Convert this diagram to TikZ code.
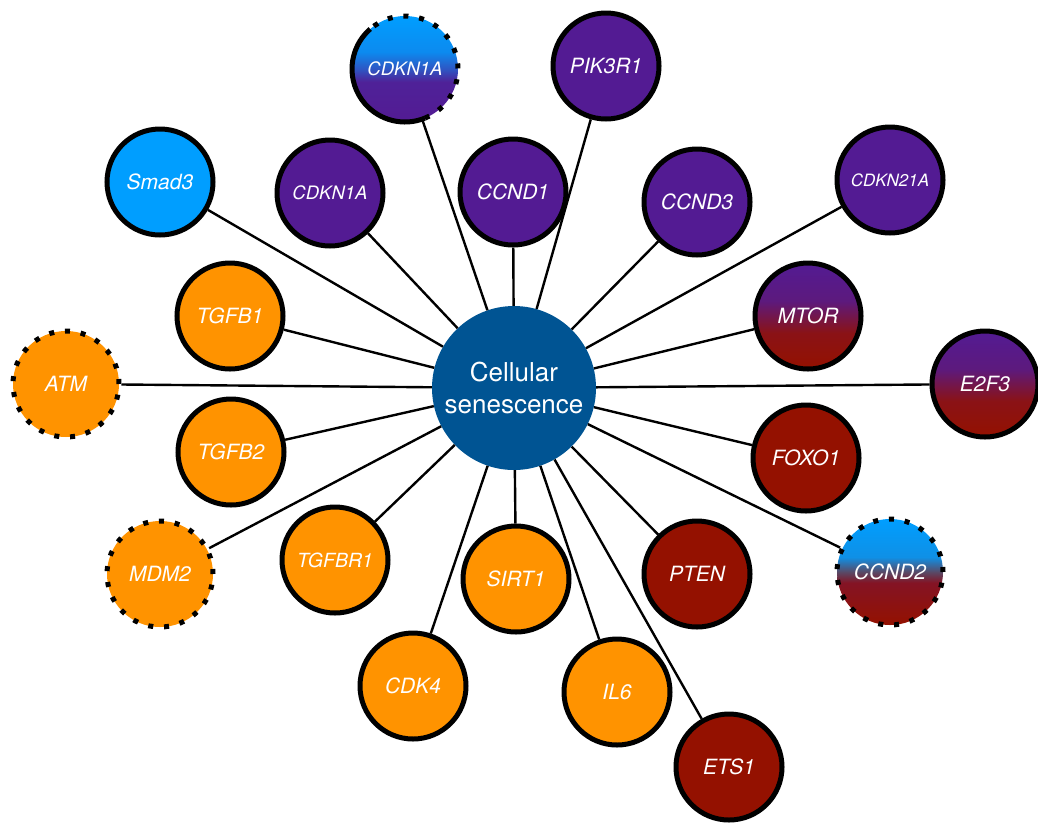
\documentclass[tikz,border=0pt]{standalone}
\usepackage{fontspec}
\setmainfont{TeX Gyre Heros}
\definecolor{ocean}{HTML}{005493}
\definecolor{aqua}{HTML}{009EFF}
\definecolor{tangerine}{HTML}{FF9300}
\definecolor{grape}{HTML}{531B93}
\definecolor{cayenne}{HTML}{941100}
\pgfdeclareverticalshading{grapecayenne}{100bp}{color(0bp)=(cayenne); color(25bp)=(cayenne); color(42bp)=(cayenne!85!grape); color(57bp)=(grape!85!cayenne); color(75bp)=(grape); color(100bp)=(grape)}
\pgfdeclareverticalshading{aquagrape}{100bp}{color(0bp)=(grape); color(25bp)=(grape); color(44bp)=(grape!95!aqua); color(50bp)=(aqua!45!grape); color(58bp)=(aqua!85!grape); color(75bp)=(aqua); color(100bp)=(aqua)}
\pgfdeclareverticalshading{aquacayenne}{100bp}{color(0bp)=(cayenne); color(25bp)=(cayenne); color(45bp)=(cayenne!75!grape); color(50bp)=(aqua!40!cayenne); color(57bp)=(aqua!90!cayenne); color(75bp)=(aqua); color(100bp)=(aqua)}
\begin{document}
\begin{tikzpicture}[x=1pt,y=-1pt,
    gene/.style={circle,draw=black,line width=5pt,minimum size=106pt,inner sep=0pt,text=white,
        font=\fontsize{21}{25}\selectfont\itshape},
    small/.style={font=\fontsize{18.5}{22}\selectfont\itshape},
    tiny/.style={font=\fontsize{17}{20}\selectfont\itshape},
    dots/.style={dash pattern=on 5pt off 10.86pt},
    link/.style={line width=2.4pt,black}]
    \useasboundingbox (0,0) rectangle (1038,823);

    %hub
    \node[circle,fill=ocean,minimum size=164pt,inner sep=0pt,text=white,align=center,
        font=\fontsize{26}{32}\selectfont] (hub) at (514,388) {Cellular\\senescence};

    %blue and purple
    \node[gene,fill=aqua] (smad) at (160,182) {Smad3};
    \node[gene,fill=grape,small] (cdkA) at (330,193) {CDKN1A};
    \node[gene,draw=none,outer sep=0pt,shading=aquagrape,small] (cdkB) at (405,69) {CDKN1A};
    \draw[line width=5pt,x=1pt,y=1pt] (cdkB.131) arc[start angle=131,end angle=292,radius=53];
    \draw[line width=5pt,dots,x=1pt,y=1pt] (cdkB.292) arc[start angle=292,end angle=491,radius=53];
    \node[gene,fill=grape] (ccndA) at (513,192) {CCND1};
    \node[gene,fill=grape] (pik) at (606,66) {PIK3R1};
    \node[gene,fill=grape] (ccndC) at (697,202) {CCND3};
    \node[gene,fill=grape,tiny] (cdkC) at (890,180) {CDKN21A};

    %mixed and red
    \node[gene,shading=grapecayenne] (mtor) at (808,316) {MTOR};
    \node[gene,shading=grapecayenne] (efs) at (985,384) {E2F3};
    \node[gene,fill=cayenne] (foxo) at (806,458) {FOXO1};
    \node[gene,dots,shading=aquacayenne] (ccndB) at (890,572) {CCND2};
    \node[gene,fill=cayenne] (pten) at (697,574) {PTEN};
    \node[gene,fill=cayenne] (ets) at (729,767) {ETS1};

    %orange
    \node[gene,fill=tangerine] (il) at (617,692) {IL6};
    \node[gene,fill=tangerine] (sirt) at (516,579) {SIRT1};
    \node[gene,fill=tangerine] (cdk) at (413,686) {CDK4};
    \node[gene,fill=tangerine,font=\fontsize{19.5}{23}\selectfont\itshape] (tgfbr) at (335,560) {TGFBR1};
    \node[gene,dots,fill=tangerine] (mdm) at (160,574) {MDM2};
    \node[gene,fill=tangerine] (tgfbB) at (231,452) {TGFB2};
    \node[gene,dots,fill=tangerine] (atm) at (66,384) {ATM};
    \node[gene,fill=tangerine] (tgfbA) at (230,316) {TGFB1};

    %links
    \draw[link] (hub) -- (smad);
    \draw[link] (hub) -- (cdkA);
    \draw[link] (hub) -- (cdkB);
    \draw[link] (hub) -- (ccndA);
    \draw[link] (hub) -- (pik);
    \draw[link] (hub) -- (ccndC);
    \draw[link] (hub) -- (cdkC);
    \draw[link] (hub) -- (mtor);
    \draw[link] (hub) -- (efs);
    \draw[link] (hub) -- (foxo);
    \draw[link] (hub) -- (ccndB);
    \draw[link] (hub) -- (pten);
    \draw[link] (hub) -- (ets);
    \draw[link] (hub) -- (il);
    \draw[link] (hub) -- (sirt);
    \draw[link] (hub) -- (cdk);
    \draw[link] (hub) -- (tgfbr);
    \draw[link] (hub) -- (mdm);
    \draw[link] (hub) -- (tgfbB);
    \draw[link] (hub) -- (atm);
    \draw[link] (hub) -- (tgfbA);
\end{tikzpicture}
\end{document}
